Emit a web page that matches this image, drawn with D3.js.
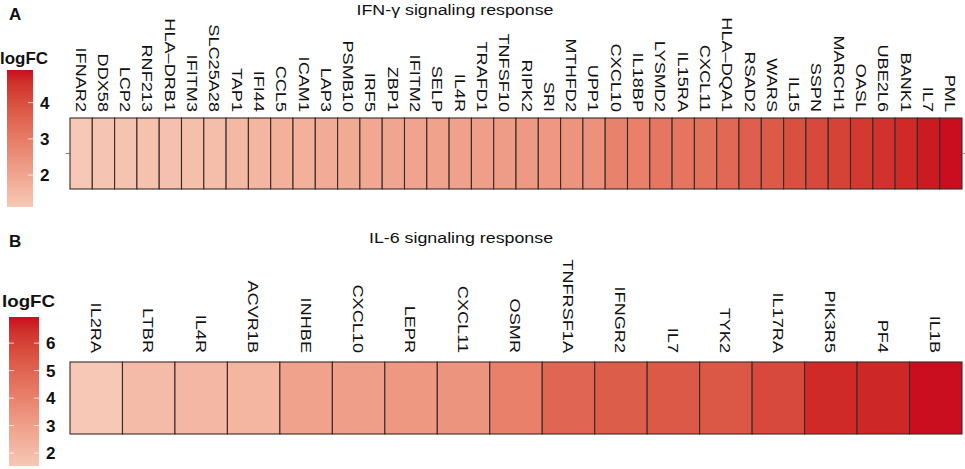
<!DOCTYPE html>
<html>
<head>
<meta charset="utf-8">
<script src="https://cdn.jsdelivr.net/npm/d3@7"></script>
<style>
  body { margin: 0; background: #fff; }
  text { font-family: "Liberation Sans", Arial, sans-serif; fill: #111; }
  .bold { font-weight: bold; }
</style>
</head>
<body>
<svg id="chart" width="965" height="469"></svg>
<script>
// Panel A: IFN-gamma signaling response
const genesA = ["IFNAR2","DDX58","LCP2","RNF213","HLA\u2013DRB1","IFITM3","SLC25A28","TAP1","IFI44","CCL5",
  "ICAM1","LAP3","PSMB10","IRF5","ZBP1","IFITM2","SELP","IL4R","TRAFD1","TNFSF10",
  "RIPK2","SRI","MTHFD2","UPP1","CXCL10","IL18BP","LYSMD2","IL15RA","CXCL11","HLA\u2013DQA1",
  "RSAD2","WARS","IL15","SSPN","MARCH1","OASL","UBE2L6","BANK1","IL7","PML"];
const logfcA = [1.12,1.20,1.23,1.27,1.31,1.35,1.38,1.50,1.57,1.69,
  1.72,1.84,1.88,1.91,1.99,2.03,2.07,2.10,2.14,2.22,
  2.29,2.33,2.41,2.48,2.86,2.90,3.12,3.16,3.24,3.46,
  3.65,3.77,3.99,4.11,4.22,4.41,4.52,4.64,4.81,4.90];
const ticksA = [2, 3, 4];

// Panel B: IL-6 signaling response
const genesB = ["IL2RA","LTBR","IL4R","ACVR1B","INHBE","CXCL10","LEPR","CXCL11","OSMR",
  "TNFRSF1A","IFNGR2","IL7","TYK2","IL17RA","PIK3R5","PF4","IL1B"];
const logfcB = [1.53,1.96,2.13,2.18,2.89,2.99,3.26,3.37,4.08,
  4.94,5.22,5.38,5.43,5.81,6.57,6.62,6.95];
const ticksB = [2, 3, 4, 5, 6];

const lowColor = "#f6c8b5", highColor = "#ca0e1f";
const svg = d3.select("#chart");
const defs = svg.append("defs");

const panels = [
  { id: "A", title: "IFN-\u03b3 signaling response", genes: genesA, values: logfcA, ticks: ticksA,
    titleX: 455, titleY: 15, letterY: 20,
    logX: 0, logY: 64, logW: 48,
    barX: 7, barW: 26, barTop: 70, barBottom: 207, bothTicks: false,
    tileTop: 118, tileBottom: 189, labelY: 112, yTick: true },
  { id: "B", title: "IL-6 signaling response", genes: genesB, values: logfcB, ticks: ticksB,
    titleX: 461, titleY: 243, letterY: 247,
    logX: 2, logY: 307, logW: 53,
    barX: 9, barW: 30, barTop: 317, barBottom: 466, bothTicks: true,
    tileTop: 362, tileBottom: 434, labelY: 353, yTick: false }
];

panels.forEach(p => {
  const g = svg.append("g");
  const extent = d3.extent(p.values);
  const color = d3.scaleLinear().domain(extent).range([lowColor, highColor]).interpolate(d3.interpolateLab);

  // panel letter and title
  g.append("text").attr("class", "bold").attr("x", 9).attr("y", p.letterY)
    .style("font-size", "17px").text(p.id);
  g.append("text").attr("text-anchor", "middle")
    .attr("transform", `translate(${p.titleX},${p.titleY}) scale(1.15,1)`)
    .style("font-size", "15.5px").text(p.title);

  // heatmap tiles
  const x = d3.scaleBand().domain(p.genes).range([70, 962]).padding(0);
  g.selectAll(".tile")
    .data(p.genes.map((gname, i) => ({ gene: gname, v: p.values[i] })))
    .join("rect")
    .attr("class", "tile")
    .attr("x", d => x(d.gene))
    .attr("y", p.tileTop)
    .attr("width", x.bandwidth())
    .attr("height", p.tileBottom - p.tileTop)
    .attr("fill", d => color(d.v))
    .attr("stroke", "#3a2a27")
    .attr("stroke-width", 1.1);

  // gene labels (rotated)
  g.selectAll(".gene")
    .data(p.genes)
    .join("text")
    .attr("class", "gene")
    .attr("text-anchor", "end")
    .attr("dy", "0.36em")
    .attr("transform", d => `translate(${x(d) + x.bandwidth() / 2},${p.labelY}) rotate(90) scale(1.17,1)`)
    .style("font-size", "15.5px")
    .text(d => d);

  if (p.yTick) {
    const cy = (p.tileTop + p.tileBottom) / 2;
    g.append("line").attr("x1", 66).attr("x2", 70).attr("y1", cy).attr("y2", cy)
      .attr("stroke", "#555").attr("stroke-width", 0.8);
    g.append("line").attr("x1", 962).attr("x2", 966).attr("y1", cy).attr("y2", cy)
      .attr("stroke", "#777").attr("stroke-width", 0.8);
  }

  // colour bar legend
  const gradId = "grad" + p.id;
  const grad = defs.append("linearGradient").attr("id", gradId)
    .attr("x1", 0).attr("x2", 0).attr("y1", 1).attr("y2", 0);
  d3.range(0, 1.0001, 0.1).forEach(t => {
    grad.append("stop").attr("offset", t)
      .attr("stop-color", color(extent[0] + t * (extent[1] - extent[0])));
  });

  g.append("text").attr("class", "bold").attr("x", p.logX).attr("y", p.logY)
    .attr("textLength", p.logW).attr("lengthAdjust", "spacingAndGlyphs")
    .style("font-size", "17px").text("logFC");

  const yLeg = d3.scaleLinear().domain(extent).range([p.barBottom, p.barTop]);
  g.append("rect").attr("x", p.barX).attr("y", p.barTop)
    .attr("width", p.barW).attr("height", p.barBottom - p.barTop)
    .attr("fill", `url(#${gradId})`);

  const tk = g.selectAll(".ltick").data(p.ticks).join("g").attr("class", "ltick");
  tk.append("line")
    .attr("x1", p.barX + p.barW - 5).attr("x2", p.barX + p.barW)
    .attr("y1", d => yLeg(d)).attr("y2", d => yLeg(d))
    .attr("stroke", "#fff").attr("stroke-opacity", 0.75).attr("stroke-width", 1);
  if (p.bothTicks) {
    tk.append("line")
      .attr("x1", p.barX).attr("x2", p.barX + 5)
      .attr("y1", d => yLeg(d)).attr("y2", d => yLeg(d))
      .attr("stroke", "#fff").attr("stroke-opacity", 0.75).attr("stroke-width", 1);
  }
  tk.append("text").attr("class", "bold")
    .attr("x", p.barX + p.barW + 7)
    .attr("y", d => yLeg(d)).attr("dy", "0.36em")
    .style("font-size", "17px")
    .text(d => d);
});
</script>
</body>
</html>
